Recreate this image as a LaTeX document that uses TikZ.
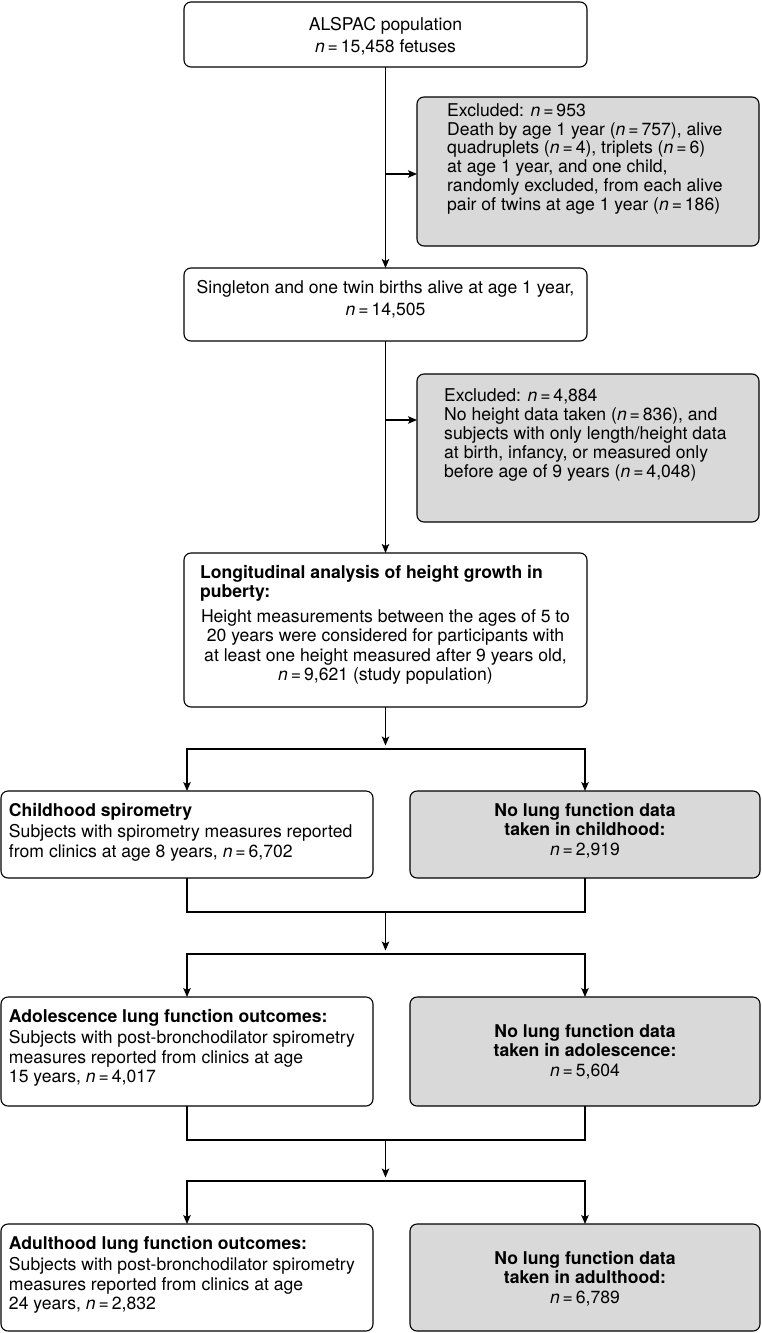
\documentclass[tikz,border=0pt]{standalone}
\usepackage{fontspec}
\setmainfont{TeX Gyre Heros}
\usetikzlibrary{arrows.meta}
\newcommand{\bx}[5]{\begin{minipage}[t][#2pt][t]{#1pt}#4\vspace*{\dimexpr#3pt-14pt\relax}\rule{0pt}{14pt}#5\par\end{minipage}}
\newcommand{\AL}[1]{\leftskip=#1pt\parindent=0pt\rightskip=0pt plus 1fil minus 60pt\parfillskip=0pt\let\\\par}
\newcommand{\AC}{\parindent=0pt\leftskip=0pt plus 1fil minus 30pt\rightskip=0pt plus 1fil minus 30pt\parfillskip=0pt\let\\\par}
\newcommand{\nn}{\textit{n}\,=\,}
\begin{document}
\begin{tikzpicture}[x=1pt,y=-1pt,
  box/.style={draw=black, line width=1.1pt, rounded corners=7pt, inner sep=0pt, outer sep=0pt, font=\fontsize{17.6}{19.5}\selectfont},
  gbox/.style={box, fill=black!15},
  etxt/.style={anchor=north west, inner sep=0pt, align=left, font=\fontsize{17.6}{18.8}\selectfont},
  arr/.style={line width=1.1pt, -{Stealth[length=9pt,width=7.5pt,inset=2pt]}},
  ln/.style={line width=1.1pt}]
\useasboundingbox (0,0) rectangle (762,1333);

\node[box] (b1) at (385.5,34.5) {\bx{403}{65}{28}{\fontsize{17.6}{22}\selectfont\AC}{ALSPAC population\\\nn 15,458 fetuses}};
\node[gbox, minimum width=342pt, minimum height=149pt] (e1) at (588,171.5) {};
\node[etxt] (e1t) at ([xshift=30pt,yshift=-5pt]e1.north west) {\rule{0pt}{14pt}Excluded: \nn 953\\Death by age 1 year (\nn 757), alive\\quadruplets (\nn 4), triplets (\nn 6)\\at age 1 year, and one child,\\randomly excluded, from each alive\\pair of twins at age 1 year (\nn 186)};
\node[box] (b2) at (385.5,304.5) {\bx{403}{73}{25}{\fontsize{17.6}{22}\selectfont\AC}{Singleton and one twin births alive at age 1 year,\\\nn 14,505}};
\node[gbox, minimum width=342pt, minimum height=148pt] (e2) at (588,448) {};
\node[etxt] (e2t) at ([xshift=27pt,yshift=-13.7pt]e2.north west) {\rule{0pt}{14pt}Excluded: \nn 4,884\\No height data taken (\nn 836), and\\subjects with only length/height data\\at birth, infancy, or measured only\\before age of 9 years (\nn 4,048)};
\node[box] (b3) at (385.5,630) {\bx{403}{154}{25}{\AL{16}}{\textbf{Longitudinal analysis of height growth in}\\\textbf{puberty:}\par\vspace{5pt}\AC Height measurements between the ages of 5 to\\20 years were considered for participants with\\at least one height measured after 9 years old,\\\nn 9,621 (study population)}};

\node[box] (cl) at (187,834.5) {\bx{372}{87}{25}{\AL{8}}{\textbf{Childhood spirometry}\par\vspace{2pt}Subjects with spirometry measures reported\\from clinics at age 8 years, \nn 6,702}};
\node[gbox] (cr) at (585,834.5) {\bx{350}{87}{25}{\AC}{\textbf{No lung function data}\\\textbf{taken in childhood:}\\\nn 2,919}};
\node[box] (al) at (187,1051.5) {\bx{372}{109}{25}{\AL{8}}{\textbf{Adolescence lung function outcomes:}\par\vspace{2pt}Subjects with post-bronchodilator spirometry\\measures reported from clinics at age\\15 years, \nn 4,017}};
\node[gbox] (ar) at (585,1051.5) {\bx{350}{109}{40}{\AC}{\textbf{No lung function data}\\\textbf{taken in adolescence:}\\\nn 5,604}};
\node[box] (dl) at (187,1277.5) {\bx{372}{107}{25}{\AL{8}}{\textbf{Adulthood lung function outcomes:}\par\vspace{2pt}Subjects with post-bronchodilator spirometry\\measures reported from clinics at age\\24 years, \nn 2,832}};
\node[gbox] (dr) at (585,1277.5) {\bx{350}{107}{40}{\AC}{\textbf{No lung function data}\\\textbf{taken in adulthood:}\\\nn 6,789}};

\coordinate (k1) at ([yshift=-77pt]e1.north west);
\coordinate (k2) at ([yshift=-46pt]e2.north west);
\draw[arr] (b1.south) -- (b2.north);
\draw[arr] (b1.south |- k1) -- (k1);
\draw[arr] (b2.south) -- (b3.north);
\draw[arr] (b2.south |- k2) -- (k2);

\coordinate (a1) at (385.5,745.5);
\coordinate (h1) at (385.5,749);
\draw[arr] (b3.south) -- (a1);
\draw[arr] (h1) -| (cl.north);
\draw[arr] (h1) -| (cr.north);

\coordinate (m2) at (385.5,912);
\coordinate (a2) at (385.5,950.5);
\coordinate (h2) at (385.5,954);
\draw[ln] (cl.south) |- (m2) -| (cr.south);
\draw[arr] (m2) -- (a2);
\draw[arr] (h2) -| (al.north);
\draw[arr] (h2) -| (ar.north);

\coordinate (m3) at (385.5,1140);
\coordinate (a3) at (385.5,1177.5);
\coordinate (h3) at (385.5,1181);
\draw[ln] (al.south) |- (m3) -| (ar.south);
\draw[arr] (m3) -- (a3);
\draw[arr] (h3) -| (dl.north);
\draw[arr] (h3) -| (dr.north);
\end{tikzpicture}
\end{document}
